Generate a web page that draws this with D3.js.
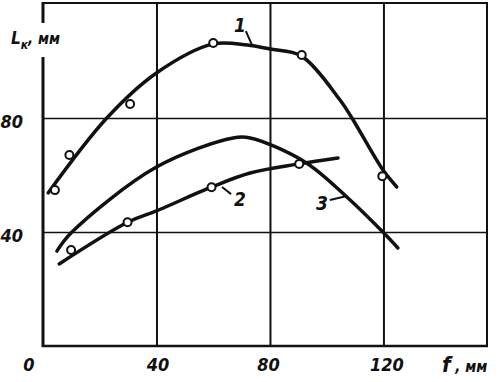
<!DOCTYPE html>
<html>
<head>
<meta charset="utf-8">
<script src="https://cdn.jsdelivr.net/npm/d3@7"></script>
<style>
  html, body { margin: 0; padding: 0; background: #fff; }
  svg { display: block; }
  .num { font-family: "Liberation Sans Narrow", "DejaVu Sans Condensed", "Liberation Sans", sans-serif; font-style: italic; font-weight: bold; fill: #111; }
</style>
</head>
<body>
<svg id="chart" width="500" height="382"></svg>
<script>
// ---- data ----
const xTicks = [0, 40, 80, 120];
const yTicks = [40, 80];

// curve 1 (upper)
const curve1X = [1.8, 22.5, 40, 60, 72, 80, 91, 104.7, 108.9, 119.8, 124.7];
const curve1Y = [53.7, 80, 95.8, 106, 105.6, 104.2, 101.8, 86.3, 80, 61.8, 55.8];
const marks1X = [4.2, 9.3, 30.7, 60, 91.2, 119.6];
const marks1Y = [54.7, 67, 84.9, 106.3, 102.1, 59.6];

// curve 2 (lower, rising)
const curve2X = [5.7, 30, 40, 59.5, 73, 90.2, 104];
const curve2Y = [28.8, 43.5, 47.4, 55.8, 60.7, 63.9, 66];
const marks2X = [9.9, 29.8, 59.4, 90.3];
const marks2Y = [33.7, 43.4, 55.7, 63.9];

// curve 3 (middle, no markers)
const curve3X = [4.9, 10.2, 40, 67, 73, 92.3, 107.1, 119.8, 125.1];
const curve3Y = [33.3, 40, 62.8, 73, 73, 64.6, 52.3, 40, 34.4];

// curve labels with leader lines (data units)
const labelText = ["1", "2", "3"];
const labelX = [69.4, 69.4, 98.3];
const labelY = [112.6, 51.6, 50.2];
const leaderX1 = [71.5, 63.1, 101.1];
const leaderY1 = [110.5, 55.8, 51.2];
const leaderX2 = [73.7, 66.3, 107.1];
const leaderY2 = [105.6, 53.3, 52.6];

// ---- layout ----
const svg = d3.select("#chart");
const L = 43, R = 487, T = 4, B = 346;
const x = d3.scaleLinear().domain([0, 156.5]).range([L, R]);
const y = d3.scaleLinear().domain([0, 120]).range([B, T]);

// grid lines
svg.append("g")
  .attr("transform", `translate(0,${B})`)
  .call(d3.axisBottom(x).tickValues(xTicks.filter(d => d > 0)).tickSize(-(B - T)).tickFormat(""))
  .call(g => g.select(".domain").remove())
  .call(g => g.selectAll("line").attr("stroke", "#111").attr("stroke-width", 2));

svg.append("g")
  .attr("transform", `translate(${L},0)`)
  .call(d3.axisLeft(y).tickValues(yTicks).tickSize(-(R - L)).tickFormat(""))
  .call(g => g.select(".domain").remove())
  .call(g => g.selectAll("line").attr("stroke", "#111").attr("stroke-width", 1.5));

// frame
svg.append("line").attr("x1", L - 1).attr("x2", R + 1).attr("y1", T - 1).attr("y2", T - 1).attr("stroke", "#111").attr("stroke-width", 2);
svg.append("line").attr("x1", R).attr("x2", R).attr("y1", T - 1).attr("y2", B).attr("stroke", "#111").attr("stroke-width", 2);
svg.append("line").attr("x1", L - 1).attr("x2", R + 1).attr("y1", B).attr("y2", B).attr("stroke", "#111").attr("stroke-width", 2.5);
svg.append("line").attr("x1", L).attr("x2", L).attr("y1", T - 2).attr("y2", B + 1).attr("stroke", "#111").attr("stroke-width", 3);

// tick labels
const xAxis = svg.append("g")
  .attr("transform", `translate(0,${B})`)
  .call(d3.axisBottom(x).tickValues(xTicks).tickSize(0).tickPadding(12))
  .call(g => g.select(".domain").remove());
xAxis.selectAll("text").attr("class", "num").attr("font-size", 18).attr("font-family", null)
  .attr("text-anchor", d => d === 0 ? "end" : "middle")
  .attr("dx", d => d === 0 ? -9 : (d === 80 ? -2 : (d === 120 ? 3 : 1)));

const yAxis = svg.append("g")
  .attr("transform", `translate(${L},0)`)
  .call(d3.axisLeft(y).tickValues(yTicks).tickSize(0).tickPadding(20))
  .call(g => g.select(".domain").remove());
yAxis.selectAll("text").attr("class", "num").attr("font-size", 18).attr("font-family", null)
  .attr("dy", "0.55em");

// axis titles
const yTitle = svg.append("g");
yTitle.append("rect").attr("x", 36).attr("y", 23).attr("width", 14).attr("height", 34).attr("fill", "#fff");
const yt = yTitle.append("text").attr("class", "num").attr("x", 11).attr("y", 44);
yt.append("tspan").attr("font-size", 17).text("L");
yt.append("tspan").attr("font-size", 12).attr("dy", 5).text("к");
yt.append("tspan").attr("font-size", 15).attr("dy", -5).text(", мм");

const xt = svg.append("text").attr("class", "num").attr("x", 442).attr("y", 372);
xt.append("tspan").attr("font-size", 22).text("f");
xt.append("tspan").attr("font-size", 15).text(" , мм");

// curves
const line = d3.line().x(d => x(d[0])).y(d => y(d[1])).curve(d3.curveCatmullRom.alpha(0.5));
const curves = [
  d3.zip(curve1X, curve1Y),
  d3.zip(curve2X, curve2Y),
  d3.zip(curve3X, curve3Y)
];
svg.append("g").selectAll("path").data(curves).join("path")
  .attr("d", line).attr("fill", "none").attr("stroke", "#111")
  .attr("stroke-width", 3.5).attr("stroke-linecap", "round");

// markers
const marks = d3.zip(marks1X, marks1Y).concat(d3.zip(marks2X, marks2Y));
svg.append("g").selectAll("circle").data(marks).join("circle")
  .attr("cx", d => x(d[0])).attr("cy", d => y(d[1])).attr("r", 4)
  .attr("fill", "#fff").attr("stroke", "#111").attr("stroke-width", 2);

// curve labels
svg.append("g").selectAll("line").data(labelText.map((t, i) => i)).join("line")
  .attr("x1", i => x(leaderX1[i])).attr("y1", i => y(leaderY1[i]))
  .attr("x2", i => x(leaderX2[i])).attr("y2", i => y(leaderY2[i]))
  .attr("stroke", "#111").attr("stroke-width", 2);
svg.append("g").selectAll("text").data(labelText.map((t, i) => i)).join("text")
  .attr("class", "num").attr("font-size", 19)
  .attr("x", i => x(labelX[i])).attr("y", i => y(labelY[i]))
  .attr("text-anchor", "middle").attr("dy", "0.36em")
  .text(i => labelText[i]);
</script>
</body>
</html>
